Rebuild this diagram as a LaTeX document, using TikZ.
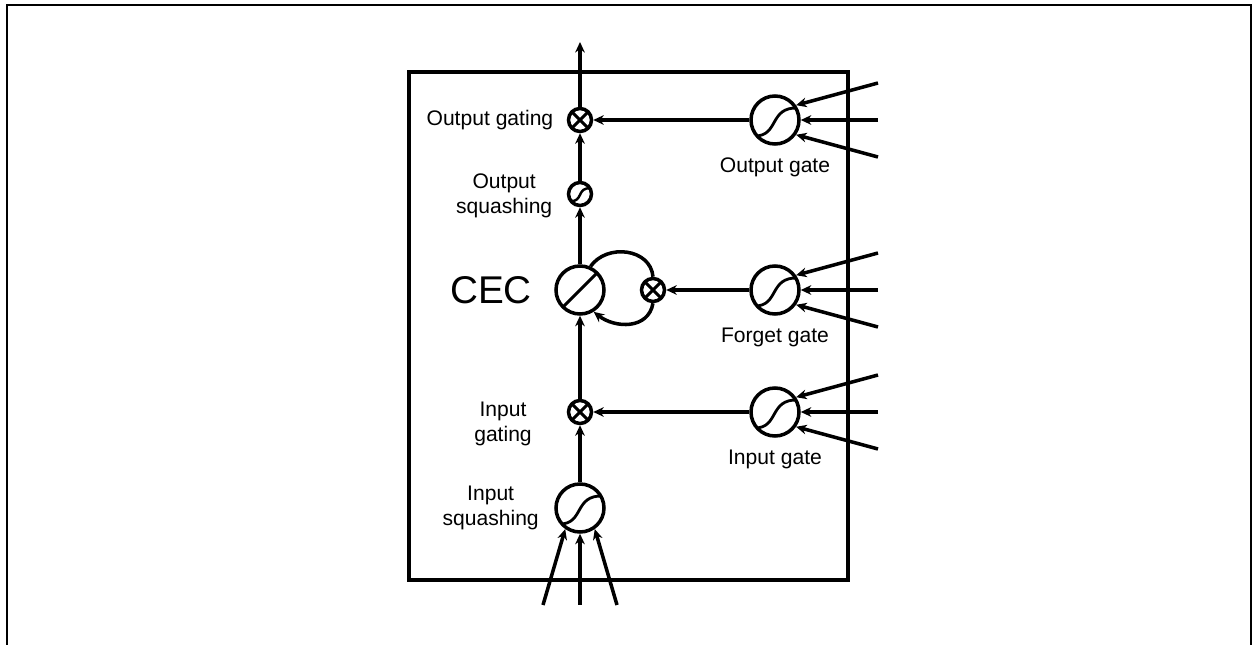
\documentclass[tikz,border=0pt]{standalone}
\usepackage{fontspec}
\setmainfont{Liberation Sans}
\usetikzlibrary{arrows.meta,positioning}
\tikzset{
  unit/.style={circle, draw, line width=2pt, inner sep=0pt},
  mult/.style={unit, minimum size=0.46cm, path picture={
      \draw[line width=1.8pt] (path picture bounding box.south west) -- (path picture bounding box.north east)
        (path picture bounding box.north west) -- (path picture bounding box.south east);}},
  sig/.style={unit, minimum size=0.96cm, path picture={
      \draw[line width=1.6pt] ([shift={(-0.40,-0.32)}]path picture bounding box.center)
        .. controls ([shift={(0.08,-0.32)}]path picture bounding box.center)
        and ([shift={(-0.12,0.26)}]path picture bounding box.center)
        .. ([shift={(0.45,0.24)}]path picture bounding box.center);}},
  smallsig/.style={unit, minimum size=0.46cm, path picture={
      \draw[line width=1.4pt] ([shift={(-0.20,-0.14)}]path picture bounding box.center)
        .. controls ([shift={(0.07,-0.17)}]path picture bounding box.center)
        and ([shift={(-0.07,0.15)}]path picture bounding box.center)
        .. ([shift={(0.22,0.11)}]path picture bounding box.center);}},
  cecunit/.style={unit, minimum size=0.96cm, path picture={
      \draw[line width=1.8pt] (path picture bounding box.south west) -- (path picture bounding box.north east);}},
  lbl/.style={inner sep=1pt, align=center, font=\fontsize{12}{14.2}\selectfont},
}

\begin{document}
\begin{tikzpicture}[>={Stealth[length=6pt,width=5.5pt]}, line width=2pt]
  \useasboundingbox (0,0) rectangle (25.1,12.9);
  \draw[line width=1.4pt] (0.14,0) -- (0.14,12.8) -- (25.02,12.8) -- (25.02,0);
  \draw (8.18,1.30) rectangle (16.96,11.46);

  \node[mult] (outgat) at (11.6,10.5) {};
  \node[smallsig] (outsq) at (11.6,9.02) {};
  \node[cecunit] (cec) at (11.6,7.1) {};
  \node[mult] (fgmul) at (13.06,7.1) {};
  \node[mult] (ingat) at (11.6,4.66) {};
  \node[sig] (insq) at (11.6,2.74) {};
  \node[sig] (outgate) at (15.5,10.5) {};
  \node[sig] (fgate) at (15.5,7.1) {};
  \node[sig] (ingate) at (15.5,4.66) {};

  \node[lbl, left=0.2cm of outgat] {Output gating};
  \node[lbl, left=0.22cm of outsq, yshift=-0.04cm] {Output\\squashing};
  \node[lbl, left=0.38cm of cec, font=\fontsize{22}{26}\selectfont] {CEC};
  \node[lbl, left=0.63cm of ingat, yshift=-0.24cm] {Input\\gating};
  \node[lbl, left=0.24cm of insq] {Input\\squashing};
  \node[lbl, below=0.17cm of outgate] {Output gate};
  \node[lbl, below=0.17cm of fgate] {Forget gate};
  \node[lbl, below=0.17cm of ingate] {Input gate};

  \coordinate (top) at (11.6,12.06);
  \draw[->] (outgat.north) -- (top);
  \draw[->] (outsq.north) -- (outgat.south);
  \draw[->] (cec.north) -- (outsq.south);
  \draw[->] (ingat.north) -- (cec.south);
  \draw[->] (insq.north) -- (ingat.south);
  \draw[->] (outgate.west) -- (outgat.east);
  \draw[->] (fgate.west) -- (fgmul.east);
  \draw[->] (ingate.west) -- (ingat.east);
  \draw (cec.66) to[out=55, in=95, looseness=1.15] (fgmul.north);
  \draw[->] (fgmul.south) to[out=-100, in=-38, looseness=1.15] (cec.-58);

  \foreach \g/\y in {outgate/10.5, fgate/7.1, ingate/4.66} {
    \coordinate (\g-a) at (17.56,\y+0.74);
    \coordinate (\g-b) at (17.56,\y);
    \coordinate (\g-c) at (17.56,\y-0.74);
    \draw[->] (\g-a) -- (\g.35);
    \draw[->] (\g-b) -- (\g.east);
    \draw[->] (\g-c) -- (\g.-35);
  }

  \coordinate (in-a) at (10.86,0.8);
  \coordinate (in-b) at (11.6,0.8);
  \coordinate (in-c) at (12.34,0.8);
  \draw[->] (in-a) -- (insq.-125);
  \draw[->] (in-b) -- (insq.south);
  \draw[->] (in-c) -- (insq.-55);
\end{tikzpicture}
\end{document}
